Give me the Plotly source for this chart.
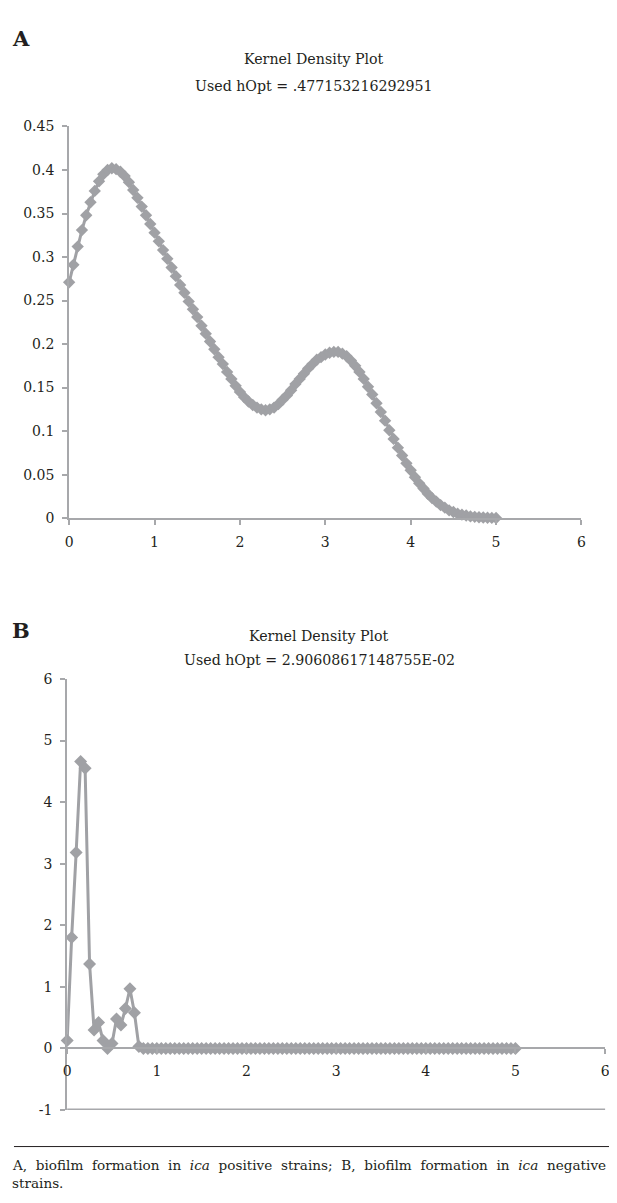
import plotly.graph_objects as go

# page is 617x1203; the HTML body keeps an 8px margin, so shift the figure by 8px
# and keep the page from overflowing vertically
PAGE_W, PAGE_H = 617, 1203
OFF = 8
W, H = PAGE_W - OFF, PAGE_H - 2 * OFF

# ---------------- data ----------------
grid_x = [0.00, 0.05, 0.10, 0.15, 0.20, 0.25, 0.30, 0.35, 0.40, 0.45,
          0.50, 0.55, 0.60, 0.65, 0.70, 0.75, 0.80, 0.85, 0.90, 0.95,
          1.00, 1.05, 1.10, 1.15, 1.20, 1.25, 1.30, 1.35, 1.40, 1.45,
          1.50, 1.55, 1.60, 1.65, 1.70, 1.75, 1.80, 1.85, 1.90, 1.95,
          2.00, 2.05, 2.10, 2.15, 2.20, 2.25, 2.30, 2.35, 2.40, 2.45,
          2.50, 2.55, 2.60, 2.65, 2.70, 2.75, 2.80, 2.85, 2.90, 2.95,
          3.00, 3.05, 3.10, 3.15, 3.20, 3.25, 3.30, 3.35, 3.40, 3.45,
          3.50, 3.55, 3.60, 3.65, 3.70, 3.75, 3.80, 3.85, 3.90, 3.95,
          4.00, 4.05, 4.10, 4.15, 4.20, 4.25, 4.30, 4.35, 4.40, 4.45,
          4.50, 4.55, 4.60, 4.65, 4.70, 4.75, 4.80, 4.85, 4.90, 4.95,
          5.00]

density_a = [0.271, 0.291, 0.312, 0.331, 0.348, 0.363, 0.376, 0.387, 0.395, 0.400,
             0.402, 0.401, 0.398, 0.393, 0.386, 0.377, 0.368, 0.358, 0.348, 0.338,
             0.328, 0.318, 0.308, 0.298, 0.288, 0.278, 0.268, 0.259, 0.249, 0.240,
             0.231, 0.221, 0.212, 0.203, 0.194, 0.185, 0.177, 0.168, 0.160, 0.152,
             0.145, 0.139, 0.134, 0.130, 0.127, 0.125, 0.124, 0.125, 0.127, 0.131,
             0.136, 0.141, 0.147, 0.154, 0.160, 0.166, 0.172, 0.177, 0.182, 0.185,
             0.188, 0.190, 0.191, 0.191, 0.189, 0.186, 0.181, 0.175, 0.168, 0.160,
             0.151, 0.142, 0.132, 0.122, 0.112, 0.101, 0.091, 0.081, 0.072, 0.063,
             0.055, 0.047, 0.040, 0.034, 0.028, 0.023, 0.019, 0.015, 0.012, 0.009,
             0.007, 0.005, 0.004, 0.003, 0.002, 0.0015, 0.001, 0.0007, 0.0005, 0.0003,
             0.0002]

density_b = [0.13, 1.80, 3.18, 4.66, 4.55, 1.37, 0.30, 0.42, 0.13, 0.00,
             0.08, 0.48, 0.38, 0.65, 0.97, 0.58, 0.03, 0.00, 0.00, 0.00,
             0.00, 0.00, 0.00, 0.00, 0.00, 0.00, 0.00, 0.00, 0.00, 0.00,
             0.00, 0.00, 0.00, 0.00, 0.00, 0.00, 0.00, 0.00, 0.00, 0.00,
             0.00, 0.00, 0.00, 0.00, 0.00, 0.00, 0.00, 0.00, 0.00, 0.00,
             0.00, 0.00, 0.00, 0.00, 0.00, 0.00, 0.00, 0.00, 0.00, 0.00,
             0.00, 0.00, 0.00, 0.00, 0.00, 0.00, 0.00, 0.00, 0.00, 0.00,
             0.00, 0.00, 0.00, 0.00, 0.00, 0.00, 0.00, 0.00, 0.00, 0.00,
             0.00, 0.00, 0.00, 0.00, 0.00, 0.00, 0.00, 0.00, 0.00, 0.00,
             0.00, 0.00, 0.00, 0.00, 0.00, 0.00, 0.00, 0.00, 0.00, 0.00,
             0.00]

x_ticks = [0, 1, 2, 3, 4, 5, 6]
x_tick_text = ["0", "1", "2", "3", "4", "5", "6"]
ya_ticks = [0, 0.05, 0.1, 0.15, 0.2, 0.25, 0.3, 0.35, 0.4, 0.45]
ya_tick_text = ["0", "0.05", "0.1", "0.15", "0.2", "0.25", "0.3", "0.35", "0.4", "0.45"]
yb_ticks = [-1, 0, 1, 2, 3, 4, 5, 6]
yb_tick_text = ["-1", "0", "1", "2", "3", "4", "5", "6"]

title_a = ["Kernel Density Plot", "Used hOpt = .477153216292951"]
title_b = ["Kernel Density Plot", "Used hOpt = 2.90608617148755E-02"]
caption_words = ["A,", "biofilm", "formation", "in", "<i>ica</i>", "positive", "strains;",
                 "B,", "biofilm", "formation", "in", "<i>ica</i>", "negative"]
caption_end = "strains."

# ---------------- style ----------------
def px(x):
    return (x - OFF) / W

def py(y):
    return 1 - (y - OFF) / H

FONT = "DejaVu Serif"
TXT = "#231f20"
SERIES = "#a0a1a5"
AXIS = "#a7a8ab"

fig = go.Figure()

fig.add_trace(go.Scatter(
    x=grid_x, y=density_a, mode="lines+markers",
    line=dict(color=SERIES, width=3),
    marker=dict(symbol="diamond", size=9.5, color=SERIES),
    cliponaxis=False, showlegend=False, xaxis="x", yaxis="y"))

fig.add_trace(go.Scatter(
    x=grid_x, y=density_b, mode="lines+markers",
    line=dict(color=SERIES, width=3),
    marker=dict(symbol="diamond", size=10, color=SERIES),
    cliponaxis=False, showlegend=False, xaxis="x2", yaxis="y2"))

tickfont = dict(family=FONT, size=14, color=TXT)
axis_common = dict(showgrid=False, zeroline=False, showline=True, linecolor=AXIS,
                   linewidth=2, ticks="outside", ticklen=5, tickwidth=1.5,
                   tickcolor=AXIS, tickfont=tickfont, fixedrange=True)

yb_dom = [py(1117), py(680)]
yb_range = [-1, 6]
xb_pos = yb_dom[0] + (0 - yb_range[0]) / (yb_range[1] - yb_range[0]) * (yb_dom[1] - yb_dom[0])

fig.update_layout(
    width=W, height=H, margin=dict(l=0, r=0, t=0, b=0),
    paper_bgcolor="white", plot_bgcolor="white",
    font=dict(family=FONT, color=TXT),
    xaxis=dict(domain=[px(66), px(586)], range=[0, 6], tickvals=x_ticks,
               ticktext=x_tick_text, anchor="y", ticklabelstandoff=5, **axis_common),
    yaxis=dict(domain=[py(517), py(120)], range=[0, 0.45], tickvals=ya_ticks,
               ticktext=ya_tick_text, anchor="x", ticklabelstandoff=5, **axis_common),
    xaxis2=dict(domain=[px(64), px(610)], range=[0, 6], tickvals=x_ticks,
                ticktext=x_tick_text, anchor="free", position=xb_pos,
                ticklabelstandoff=5, **axis_common),
    yaxis2=dict(domain=yb_dom, range=yb_range, tickvals=yb_ticks,
                ticktext=yb_tick_text, anchor="x2", ticklabelstandoff=5, **axis_common),
)

# bottom boundary line of panel B at y = -1
fig.add_shape(type="line", xref="x2 domain", yref="y2", x0=0, x1=1, y0=-1, y1=-1,
              line=dict(color=AXIS, width=3))
# caption rule
fig.add_shape(type="line", xref="paper", yref="paper", x0=px(10), x1=1,
              y0=py(1154), y1=py(1154), line=dict(color="#231f20", width=1))

ann = []
ann.append(dict(text="<b>A</b>", x=px(6), y=py(31), xanchor="left", yanchor="middle",
                font=dict(family=FONT, size=21, color=TXT)))
ann.append(dict(text="<b>B</b>", x=px(6), y=py(631), xanchor="left", yanchor="middle",
                font=dict(family=FONT, size=21, color=TXT)))
for txt, yy in zip(title_a, [52, 79]):
    ann.append(dict(text=txt, x=px(315), y=py(yy), xanchor="center", yanchor="middle",
                    font=dict(family=FONT, size=14.2, color=TXT)))
for txt, yy in zip(title_b, [636, 661]):
    ann.append(dict(text=txt, x=px(320), y=py(yy), xanchor="center", yanchor="middle",
                    font=dict(family=FONT, size=14.2, color=TXT)))
gap = " \u00a0"
ann.append(dict(text=gap.join(caption_words), x=px(6), y=py(1173), xanchor="left",
                yanchor="middle", font=dict(family=FONT, size=13.6, color=TXT)))
ann.append(dict(text=caption_end, x=px(6), y=py(1191), xanchor="left", yanchor="middle",
                font=dict(family=FONT, size=13.6, color=TXT)))
for a in ann:
    a.update(xref="paper", yref="paper", showarrow=False)
fig.update_layout(annotations=ann)

fig.write_html("out.html")
